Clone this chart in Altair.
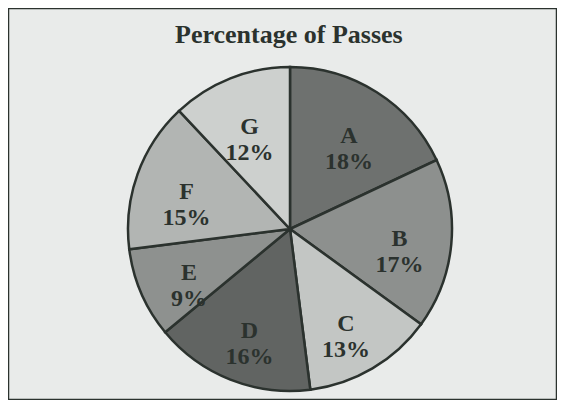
import altair as alt
import pandas as pd

categories = ["A", "B", "C", "D", "E", "F", "G"]
percentages = [18, 17, 13, 16, 9, 15, 12]
shades = ["#6e716f", "#8d908e", "#c3c6c4", "#616462", "#8e918f", "#b2b5b3", "#cdd0ce"]

df = pd.DataFrame({
    "category": categories,
    "pct": percentages,
    "order": list(range(len(categories))),
})
df["label"] = [f"{c}\n{p}%" for c, p in zip(categories, percentages)]

ink = "#2b322e"
cx, cy = 282, 221

base = alt.Chart(df).encode(
    theta=alt.Theta("pct:Q", stack=True),
    order=alt.Order("order:Q"),
)

pie = base.mark_arc(outerRadius=162, stroke=ink, strokeWidth=2.5).encode(
    color=alt.Color("category:N", scale=alt.Scale(domain=categories, range=shades), legend=None),
    x=alt.value(cx), y=alt.value(cy),
)

labels = base.mark_text(
    radius=110, font="Liberation Serif", fontWeight="bold", fontSize=24,
    color=ink, lineBreak="\n", lineHeight=26, baseline="middle", align="center",
).encode(
    text="label:N",
    x=alt.value(cx), y=alt.value(cy),
)

chart = (pie + labels).properties(
    width=549, height=392,
    autosize=alt.AutoSizeParams(type="none"),
    padding=0,
    background="#e9ebea",
    title=alt.TitleParams(
        "Percentage of Passes", font="Liberation Serif", fontWeight="bold",
        fontSize=26, color=ink, anchor="start", dx=167, dy=44,
    ),
).configure_view(stroke=ink, strokeWidth=2.5)

chart.save("out.html", embed_options={"renderer": "svg", "actions": False})
